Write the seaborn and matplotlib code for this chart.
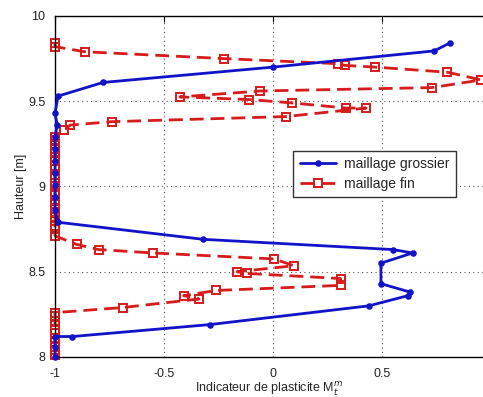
import numpy as np
import pandas as pd
import matplotlib
matplotlib.use("Agg")
import matplotlib.pyplot as plt
import seaborn as sns

# maillage grossier (coarse mesh)
coarse_x = [0.812, 0.739, 0.0, -0.78, -0.986, -1.0, -0.99, -1.0, -1.0, -1.0, -1.0,
            -1.0, -1.0, -1.0, -0.985, -0.32, 0.55, 0.64, 0.495, 0.495, 0.63, 0.62,
            0.44, -0.29, -0.92, -1.0, -1.0, -1.0]
coarse_y = [9.842, 9.795, 9.70, 9.61, 9.53, 9.43, 9.36, 9.29, 9.22, 9.15, 9.08,
            9.01, 8.94, 8.86, 8.79, 8.69, 8.63, 8.61, 8.55, 8.43, 8.38, 8.36,
            8.30, 8.19, 8.12, 8.12, 8.06, 8.0]

# maillage fin (fine mesh)
fine_x = [-1.0, -1.0, -0.862, -0.225, 0.298, 0.33, 0.47, 0.80, 0.955, 0.73,
          -0.06, -0.427, -0.11, 0.087, 0.335, 0.427, 0.06, -0.74, -0.93, -0.96,
          -1.0, -1.0, -1.0, -1.0, -1.0, -1.0, -1.0, -1.0, -1.0, -1.0, -1.0,
          -1.0, -1.0, -1.0, -1.0, -1.0, -1.0, -1.0, -1.0, -1.0, -1.0, -1.0, -1.0,
          -1.0, -0.90, -0.80, -0.55, 0.005, 0.096, -0.165, -0.12, 0.31, 0.31,
          -0.26, -0.41, -0.34, -0.69, -1.0, -1.0, -1.0, -1.0, -1.0, -1.0, -1.0,
          -1.0, -1.0, -1.0, -1.0]
fine_y = [9.84, 9.82, 9.79, 9.75, 9.72, 9.71, 9.70, 9.67, 9.625, 9.58,
          9.56, 9.525, 9.51, 9.49, 9.46, 9.46, 9.41, 9.38, 9.36, 9.33,
          9.29, 9.27, 9.25, 9.22, 9.20, 9.17, 9.15, 9.12, 9.10, 9.07, 9.05,
          9.02, 9.00, 8.97, 8.95, 8.92, 8.90, 8.87, 8.85, 8.82, 8.80, 8.77, 8.75,
          8.71, 8.66, 8.63, 8.61, 8.575, 8.535, 8.50, 8.49, 8.46, 8.42,
          8.39, 8.36, 8.34, 8.29, 8.26, 8.24, 8.21, 8.19, 8.16, 8.14, 8.11,
          8.09, 8.06, 8.04, 8.01]

x_ticks = [-1, -0.5, 0, 0.5]
x_labels = ["-1", "-0.5", "0", "0.5"]
y_ticks = [8, 8.5, 9, 9.5, 10]
y_labels = ["8", "8.5", "9", "9.5", "10"]

coarse = pd.DataFrame({"x": coarse_x, "y": coarse_y})
fine = pd.DataFrame({"x": fine_x, "y": fine_y})

sns.set_style("white")
plt.rcParams["font.family"] = ["Liberation Sans", "DejaVu Sans"]

fig = plt.figure(figsize=(4.83, 3.97), dpi=100)
ax = fig.add_axes([0.1139, 0.1008, 0.886, 0.859])

blue = "#1212c8"
red = "#d81a1a"

sns.lineplot(data=coarse, x="x", y="y", sort=False, estimator=None, ax=ax,
             color=blue, linewidth=2, marker="o", markersize=3.5,
             markerfacecolor=blue, markeredgecolor=blue, markeredgewidth=1.2,
             label="maillage grossier", clip_on=False, zorder=3)
sns.lineplot(data=fine, x="x", y="y", sort=False, estimator=None, ax=ax,
             color=red, linewidth=2, linestyle=(0, (5, 2.5)), marker="s",
             markersize=5.5, markerfacecolor="none", markeredgecolor=red,
             markeredgewidth=1.4, label="maillage fin", clip_on=False, zorder=2)

ax.set_xlim(-1, 0.963)
ax.set_ylim(8, 10)
ax.set_xticks(x_ticks)
ax.set_xticklabels(x_labels)
ax.set_yticks(y_ticks)
ax.set_yticklabels(y_labels)
ax.grid(True, linestyle=(0, (1, 3)), color="#555555", linewidth=0.8)
ax.tick_params(direction="in", length=4, labelsize=9, colors="black",
               labelcolor="#222222", top=True, right=False)
ax.tick_params(axis="y", pad=7)
ax.tick_params(axis="x", pad=8)
for s in ["left", "bottom", "top"]:
    ax.spines[s].set_color("black")
    ax.spines[s].set_linewidth(1)
ax.spines["right"].set_visible(False)

ax.set_xlabel("Indicateur de plasticite M$_t^m$", fontsize=9, labelpad=0)
ax.set_ylabel("Hauteur [m]", fontsize=9, labelpad=1)

leg = ax.legend(loc="upper left", bbox_to_anchor=(0.541, 0.625), fontsize=10,
                frameon=True, fancybox=False, framealpha=1, edgecolor="#333333",
                handlelength=2.6, borderpad=0.45, labelspacing=0.4,
                handletextpad=0.6)
leg.get_frame().set_linewidth(1)

fig.savefig("out.png", dpi=100)
